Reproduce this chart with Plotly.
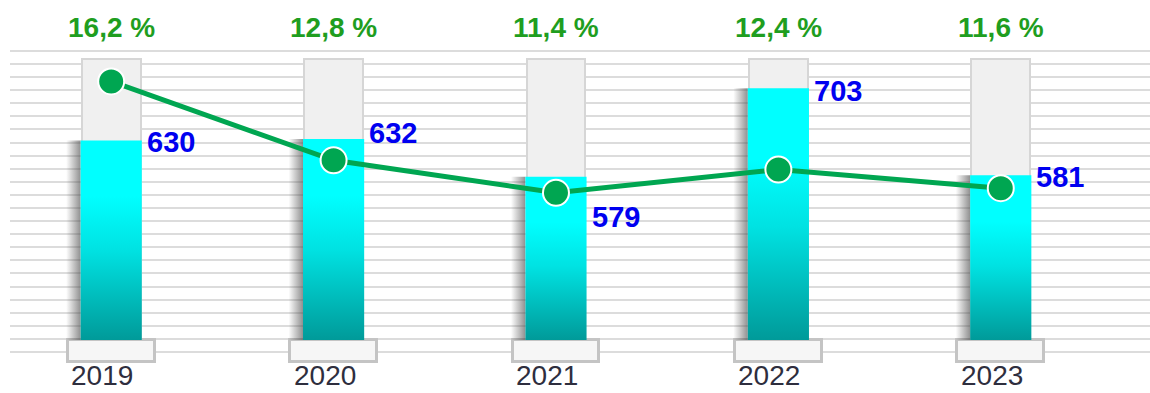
import plotly.graph_objects as go

# ---- data ----
years = ["2019", "2020", "2021", "2022", "2023"]
volumes = [630, 632, 579, 703, 581]          # bar values
shares = [16.2, 12.8, 11.4, 12.4, 11.6]      # line values, %
capacity = [744, 744, 744, 744, 744]         # grey backdrop column height

# ---- geometry / style constants ----
BASE = 350            # bar baseline on the value axis
PLATE_BOTTOM = 319    # lower edge of the pedestal under each column
BAR_W = 0.275
BACK_W = 0.265
PLATE_W = 0.39
SHADOW_W = 0.065
FONT = "Liberation Sans, Arial, sans-serif"
GREEN_LINE = "#00a651"
GREEN_TEXT = "#1f9e1f"
BLUE_TEXT = "#0000f0"

xs = list(range(len(years)))
share_labels = [f"{s:.1f}".replace(".", ",") + " %" for s in shares]
value_labels = [str(v) for v in volumes]
# vertical nudges (px) for the value labels
label_dy = [-2, 6, -40, -3, -2]

# horizontal gridlines, evenly spaced on the value axis
grid_vals = [333.2 + 18.36 * k for k in range(24)]

fig = go.Figure()

# grey backdrop columns
fig.add_trace(go.Bar(
    x=xs, y=[c - BASE for c in capacity], base=BASE, width=BACK_W,
    marker=dict(color="#f0f0f0", line=dict(color="#d6d6d6", width=2)),
    hoverinfo="skip",
))

# pedestals under the columns
fig.add_trace(go.Bar(
    x=xs, y=[BASE - PLATE_BOTTOM] * len(xs), base=PLATE_BOTTOM, width=PLATE_W,
    marker=dict(color="#f6f6f6", line=dict(color="#c4c4c4", width=3)),
    hoverinfo="skip",
))

# soft shadow on the left of each cyan column
for x, v in zip(xs, volumes):
    x1 = x - BAR_W / 2
    x0 = x1 - SHADOW_W
    fig.add_trace(go.Scatter(
        x=[x0, x1, x1, x0, x0], y=[BASE, BASE, v, v, BASE],
        mode="lines", line=dict(width=0), fill="toself",
        fillgradient=dict(type="horizontal", start=x0, stop=x1,
                          colorscale=[[0, "rgba(70,70,70,0)"],
                                      [1, "rgba(70,70,70,0.6)"]]),
        hoverinfo="skip",
    ))

# cyan columns with a vertical gradient
for x, v in zip(xs, volumes):
    x0, x1 = x - BAR_W / 2, x + BAR_W / 2
    fig.add_trace(go.Scatter(
        x=[x0, x1, x1, x0, x0], y=[BASE, BASE, v, v, BASE],
        mode="lines", line=dict(width=0), fill="toself",
        fillgradient=dict(type="vertical", start=BASE, stop=v,
                          colorscale=[[0, "#009a99"], [0.45, "#00e2e2"],
                                      [0.72, "#00ffff"], [1, "#00ffff"]]),
        hoverinfo="skip",
    ))

# share line
fig.add_trace(go.Scatter(
    x=xs, y=shares, yaxis="y2", mode="lines+markers",
    line=dict(color=GREEN_LINE, width=5),
    marker=dict(size=26, color=GREEN_LINE, line=dict(color="white", width=2)),
    hoverinfo="skip",
))

annotations = []
for x, lab in zip(xs, share_labels):
    annotations.append(dict(
        x=x, y=1 - 28 / 393, xref="x", yref="paper", text=lab, showarrow=False,
        xshift=0, font=dict(family=FONT, size=28, color=GREEN_TEXT, weight="bold"),
        xanchor="center", yanchor="middle",
    ))
for x, lab, v, dy in zip(xs, value_labels, volumes, label_dy):
    annotations.append(dict(
        x=x + BAR_W / 2, y=v, xref="x", yref="y", text=lab, showarrow=False,
        xshift=3, yshift=dy,
        font=dict(family=FONT, size=29, color=BLUE_TEXT, weight="bold"),
        xanchor="left", yanchor="middle",
    ))
for x, lab in zip(xs, years):
    annotations.append(dict(
        x=x, y=0, xref="x", yref="paper", text=lab, showarrow=False,
        xshift=-9, yshift=0,
        font=dict(family=FONT, size=28, color="#2e2e3e"),
        xanchor="center", yanchor="bottom",
    ))

fig.update_layout(
    width=1150, height=393,
    margin=dict(l=10, r=0, t=0, b=0),
    paper_bgcolor="white", plot_bgcolor="white",
    showlegend=False, barmode="overlay", bargap=0,
    xaxis=dict(range=[-0.455, 4.671], visible=False, fixedrange=True),
    yaxis=dict(range=[275.7, 826.9], tickmode="array", tickvals=grid_vals,
               showticklabels=False, ticks="", showgrid=True,
               gridcolor="#dcdcdc", gridwidth=1.5, zeroline=False,
               showline=False, fixedrange=True),
    yaxis2=dict(range=[2.77, 19.71], overlaying="y", visible=False,
                fixedrange=True),
    annotations=annotations,
)

fig.write_html("out.html")
